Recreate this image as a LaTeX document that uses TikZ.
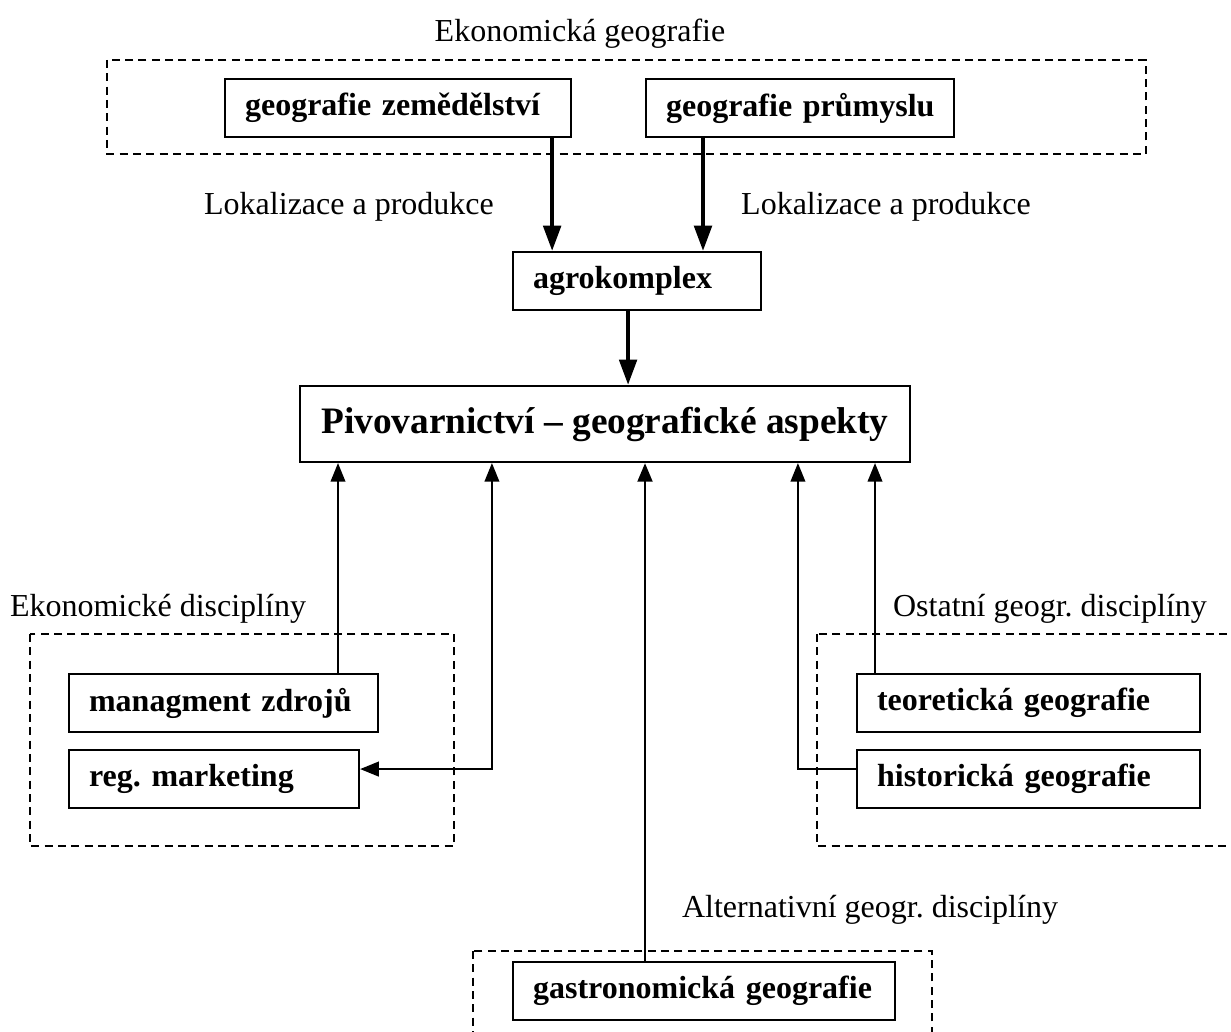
\documentclass[tikz,border=0pt]{standalone}
\usepackage{fontspec}
\setmainfont{Liberation Serif}
\frenchspacing
\usetikzlibrary{arrows.meta,calc}
\tikzset{
  box/.style ={draw,line width=0.8pt,anchor=north west,align=left,
               inner xsep=7.5pt,inner ysep=0pt,minimum height=21.75pt,
               font=\fontsize{12}{14}\selectfont\bfseries,
               execute at begin node=\hbox\bgroup,
               execute at end node=\egroup},
  mainbox/.style={draw,line width=0.8pt,minimum width=228.75pt,
               minimum height=28.5pt,font=\fontsize{14}{16}\selectfont\bfseries},
  grp/.style ={draw,dash pattern=on 3pt off 2pt,line width=0.6pt},
  lbl/.style ={font=\fontsize{12}{14}\selectfont,anchor=base,inner sep=0pt},
  ar/.style  ={-{Triangle[length=7pt,width=5.5pt]},line width=0.7pt},
  arc/.style ={-{Triangle[length=7pt,width=5.5pt]},line width=1.1pt},
  arb/.style ={-{Triangle[length=9.5pt,width=6.5pt]},line width=1.6pt},
}
\begin{document}
\begin{tikzpicture}[x=0.375pt,y=-0.375pt]
\clip (0,0) rectangle (1231,1032);
% dashed group frames
\draw[grp] (107,60) rectangle (1146,154);
\draw[grp] (30,634) rectangle (454,846);
\draw[grp] (817,634) rectangle (1250,846);
\draw[grp] (473,951) rectangle (932,1050);
% group titles
\node[lbl] (tEko)  at (580,42)  {Ekonomická geografie};
\node[lbl] (tDisc) at (158,617) {Ekonomické disciplíny};
\node[lbl] (tOst)  at (1050,617) {Ostatní geogr. disciplíny};
\node[lbl] (tAlt)  at (870,917) {Alternativní geogr. disciplíny};
\node[lbl] (lokL)  at (349,215) {Lokalizace a produkce};
\node[lbl] (lokR)  at (886,215) {Lokalizace a produkce};
% boxes
\node[box,text width=114.75pt] (zem)    at (224,78)  {geografie zemědělství};
\node[box,text width=100.5pt]  (prum)   at (645,78)  {geografie průmyslu};
\node[box,text width=78pt]     (agro)   at (512,251) {agrokomplex};
\node[mainbox]                 (pivo)   at (605,424) {Pivovarnictví – geografické aspekty};
\node[box,text width=100.875pt] (manag) at (68,673)  {managment zdrojů};
\node[box,text width=93.75pt]  (reg)    at (68,749)  {reg. marketing};
\node[box,text width=113.625pt] (teor)  at (856,673) {teoretická geografie};
\node[box,text width=113.625pt] (hist)  at (856,749) {historická geografie};
\node[box,text width=128.25pt] (gastro) at (512,961) {gastronomická geografie};
% connector ends
\coordinate (zemOut)  at ($(zem.south east)+(-20,0)$);
\coordinate (prumOut) at ($(prum.south west)+(58,0)$);
\coordinate (agroOut) at ($(agro.south)+(-9,0)$);
\coordinate (managOut) at ($(manag.north west)+(270,0)$);
\coordinate (regIn)   at ($(pivo.south west)+(193,0)$);
\coordinate (gastroOut) at ($(gastro.north west)+(133,0)$);
\coordinate (histIn)  at ($(pivo.south west)+(499,0)$);
\coordinate (teorOut) at ($(teor.north west)+(19,0)$);
% connectors
\draw[arb] (zemOut) -- (zemOut |- agro.north);
\draw[arb] (prumOut) -- (prumOut |- agro.north);
\draw[arb] (agroOut) -- (agroOut |- pivo.north);
\draw[ar] (managOut) -- (managOut |- pivo.south);
\draw[ar,{Triangle[length=7pt,width=5.5pt]}-{Triangle[length=7pt,width=5.5pt]}]
  ($(reg.east)+(0,-10)$) -| (regIn);
\draw[arc] (gastroOut) -- (gastroOut |- pivo.south);
\draw[ar] ($(hist.west)+(0,-10)$) -| (histIn);
\draw[ar] (teorOut) -- (teorOut |- pivo.south);
\end{tikzpicture}
\end{document}
